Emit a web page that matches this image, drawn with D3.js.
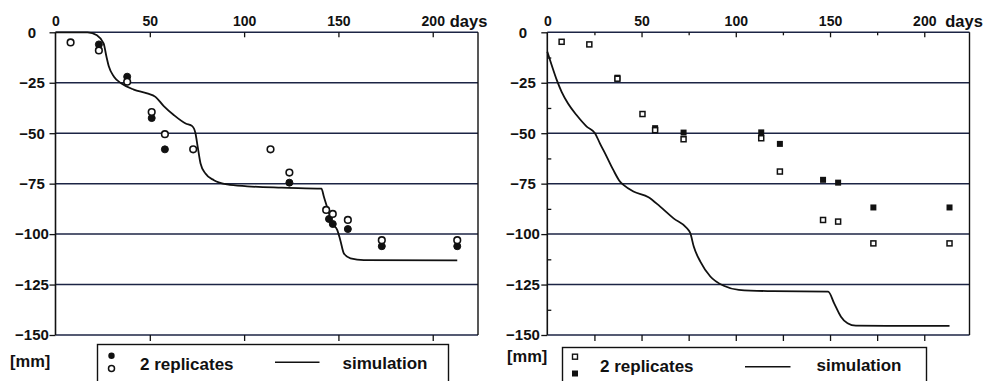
<!DOCTYPE html>
<html>
<head>
<meta charset="utf-8">
<script src="https://cdn.jsdelivr.net/npm/d3@7/dist/d3.min.js"></script>
<style>
  html, body { margin: 0; padding: 0; background: #fff; }
  svg { display: block; }
  text { font-family: "Liberation Sans", Arial, sans-serif; font-weight: bold; fill: #111; }
</style>
</head>
<body>
<svg id="chart" width="990" height="381"></svg>
<script>
// ---- data ----
const xTickValues = [0, 50, 100, 150, 200];
const yTickValues = [0, -25, -50, -75, -100, -125, -150];

// Left panel: two replicates (filled / open circles) and simulation
const leftRep1Days = [23, 38, 51, 58, 124, 145, 147, 155, 173, 213];
const leftRep1Vals = [-6, -22, -42.5, -58, -74.5, -92.5, -95, -97.5, -106, -106];
const leftRep2Days = [8, 23, 38, 51, 58, 73, 114, 124, 143.5, 147, 155, 173, 213];
const leftRep2Vals = [-5, -9, -24.5, -39.5, -50.5, -58, -58, -69.5, -88, -90, -93, -103, -103];
const leftSimDays = [0, 17, 22, 25.5, 27, 28.3, 31, 35, 41.5, 48.6, 53, 57.4, 62.7, 69, 72.5, 74.2, 75.4, 76.9, 79.5, 84, 91, 101.6, 120, 141, 142.3, 145, 146.7, 149.4, 151, 152.9, 156.4, 163.5, 213];
const leftSimVals = [0, 0, -1.5, -5.5, -12, -17, -22, -25.4, -28.4, -30.3, -32, -36.6, -41, -45.2, -46.5, -50, -56.8, -65, -70, -73.3, -75.4, -76.3, -77, -77.5, -81.5, -89.7, -94.7, -98, -103, -109.6, -112, -112.9, -113];

// Right panel: two replicates (open / filled squares) and simulation
const rightRep1Days = [7.6, 22.3, 37.2, 50.5, 57.2, 72.3, 113.5, 123.4, 146.3, 154.3, 173, 213.4];
const rightRep1Vals = [-4.7, -6, -23, -40.5, -48.5, -53, -52.5, -69, -93, -93.8, -104.6, -104.6];
const rightRep2Days = [37.2, 57.2, 72.3, 113.5, 123.4, 146.3, 154.3, 173, 213.4];
const rightRep2Vals = [-22.5, -47.5, -49.7, -49.6, -55.3, -73.1, -74.5, -86.8, -86.8];
const rightSimDays = [0, 2.3, 5, 7.6, 11, 15.5, 20.9, 25.3, 27.9, 31.5, 35, 38.6, 40.4, 45.7, 53.7, 59.9, 67, 74.1, 75.9, 77.7, 81.2, 86.5, 93.6, 101.6, 120, 149, 152.2, 155.8, 159.3, 163.7, 180, 213.4];
const rightSimVals = [-9.6, -16.2, -23.6, -29.5, -35.3, -41, -46.7, -50, -55, -61.6, -68.2, -74, -75.6, -78.9, -81.7, -86.4, -92.2, -97.1, -99.6, -106.2, -113.6, -121, -125.6, -127.6, -128.3, -128.5, -134.3, -140.9, -144.2, -145.4, -145.5, -145.5];

const legendLabels = ["2 replicates", "simulation"];

// ---- drawing ----
const svg = d3.select("#chart");
const GRID = "#1c2444";
const INK = "#111";

function zip(xs, ys) { return xs.map((d, i) => [d, ys[i]]); }

function panel(opt) {
  const x = d3.scaleLinear().domain([0, 224]).range([opt.x0, opt.x1]);
  const y = d3.scaleLinear().domain([0, -150]).range([32.3, 335]);
  const g = svg.append("g");

  // horizontal gridlines
  g.append("g").selectAll("line").data(yTickValues).join("line")
    .attr("x1", x(0)).attr("x2", x(224))
    .attr("y1", d => y(d)).attr("y2", d => y(d))
    .attr("stroke", GRID).attr("stroke-width", 1.5);

  // frame: left axis and right border
  g.append("line").attr("x1", x(0)).attr("x2", x(0)).attr("y1", y(0)).attr("y2", y(-150))
    .attr("stroke", INK).attr("stroke-width", 1.6);
  g.append("line").attr("x1", x(224)).attr("x2", x(224)).attr("y1", y(0)).attr("y2", y(-150))
    .attr("stroke", INK).attr("stroke-width", 1.4);

  // top axis with labels, ticks pointing inside
  const top = g.append("g").attr("transform", `translate(0,${y(0)})`)
    .call(d3.axisTop(x).tickValues(xTickValues).tickSizeInner(-5).tickSizeOuter(0).tickPadding(6).tickFormat(d3.format("d")));
  top.select(".domain").remove();
  top.selectAll("line").attr("stroke", INK).attr("stroke-width", 1.3);
  top.selectAll("text").attr("font-size", 14).attr("font-family", "Liberation Sans, Arial, sans-serif")
    .attr("font-weight", "bold").attr("fill", INK);
  top.selectAll(".tick").filter(d => d === 0).select("line").remove();

  // bottom ticks
  const bottomVals = opt.minor ? [25, 50, 75, 100, 125, 150, 175, 200] : [50, 100, 150, 200];
  const bot = g.append("g").attr("transform", `translate(0,${y(-150)})`)
    .call(d3.axisBottom(x).tickValues(bottomVals).tickSizeInner(6).tickSizeOuter(0).tickFormat(""));
  bot.select(".domain").remove();
  bot.selectAll("line").attr("stroke", INK).attr("stroke-width", 1.3);

  if (opt.minor) {
    const tm = g.append("g").attr("transform", `translate(0,${y(0)})`)
      .call(d3.axisTop(x).tickValues([25, 75, 125, 175]).tickSizeInner(-3).tickSizeOuter(0).tickFormat(""));
    tm.select(".domain").remove();
    tm.selectAll("line").attr("stroke", INK).attr("stroke-width", 1.3);
    const ym = g.append("g").attr("transform", `translate(${x(0)},0)`)
      .call(d3.axisRight(y).tickValues([-12.5, -37.5, -62.5, -87.5, -112.5, -137.5]).tickSizeInner(4).tickSizeOuter(0).tickFormat(""));
    ym.select(".domain").remove();
    ym.selectAll("line").attr("stroke", INK).attr("stroke-width", 1.3);
  }

  // "days" unit label
  g.append("text").attr("x", x(200) + opt.daysDx).attr("y", 26.5).attr("font-size", 16.5).text("days");

  // left axis
  const left = g.append("g").attr("transform", `translate(${x(0)},0)`)
    .call(d3.axisLeft(y).tickValues(yTickValues).tickSizeInner(6).tickSizeOuter(0).tickFormat(d3.format("d")));
  left.select(".domain").remove();
  left.selectAll("line").attr("stroke", INK).attr("stroke-width", 1.3);
  left.selectAll("text").attr("font-size", 15).attr("font-family", "Liberation Sans, Arial, sans-serif")
    .attr("font-weight", "bold").attr("fill", INK)
    .attr("text-anchor", "middle").attr("x", opt.labelCx - x(0));

  // unit
  g.append("text").attr("x", opt.mmX).attr("y", opt.mmY).attr("font-size", 16.5).text("[mm]");

  // simulation line
  const line = d3.line().x(d => x(d[0])).y(d => y(d[1])).curve(d3.curveMonotoneX);
  g.append("path").datum(zip(opt.simDays, opt.simVals))
    .attr("d", line).attr("fill", "none").attr("stroke", INK).attr("stroke-width", 1.8);

  return { g, x, y };
}

// ----- left panel -----
const L = panel({ x0: 55.5, x1: 478, labelCx: 32, mmX: 10, mmY: 367, minor: false, daysDx: 17,
  simDays: leftSimDays, simVals: leftSimVals });

L.g.append("g").selectAll("circle").data(zip(leftRep1Days, leftRep1Vals)).join("circle")
  .attr("cx", d => L.x(d[0])).attr("cy", d => L.y(d[1])).attr("r", 3.5)
  .attr("fill", INK).attr("stroke", INK).attr("stroke-width", 1);
L.g.append("g").selectAll("circle").data(zip(leftRep2Days, leftRep2Vals)).join("circle")
  .attr("cx", d => L.x(d[0])).attr("cy", d => L.y(d[1])).attr("r", 3.3)
  .attr("fill", "#fff").attr("stroke", INK).attr("stroke-width", 1.6);

// ----- right panel -----
const R = panel({ x0: 547.3, x1: 969.5, labelCx: 523, mmX: 507, mmY: 362, minor: true, daysDx: 21,
  simDays: rightSimDays, simVals: rightSimVals });

const sq = 6;
R.g.append("g").selectAll("rect").data(zip(rightRep2Days, rightRep2Vals)).join("rect")
  .attr("x", d => R.x(d[0]) - sq / 2).attr("y", d => R.y(d[1]) - sq / 2)
  .attr("width", sq).attr("height", sq).attr("fill", INK);
R.g.append("g").selectAll("rect").data(zip(rightRep1Days, rightRep1Vals)).join("rect")
  .attr("x", d => R.x(d[0]) - sq / 2 + 0.5).attr("y", d => R.y(d[1]) - sq / 2 + 0.5)
  .attr("width", sq - 1).attr("height", sq - 1)
  .attr("fill", "#fff").attr("stroke", INK).attr("stroke-width", 1.5);

// ----- legends -----
function legend(o) {
  const lg = svg.append("g");
  lg.append("rect").attr("x", o.bx0).attr("y", o.by).attr("width", o.bx1 - o.bx0).attr("height", 60)
    .attr("fill", "#fff").attr("stroke", INK).attr("stroke-width", 1.4);
  o.markers(lg);
  lg.append("text").attr("x", o.textX).attr("y", o.textY).attr("font-size", 17).text(legendLabels[0]);
  lg.append("line").attr("x1", o.lineX0).attr("x2", o.lineX1).attr("y1", o.lineY).attr("y2", o.lineY)
    .attr("stroke", INK).attr("stroke-width", 1.6);
  lg.append("text").attr("x", o.simX).attr("y", o.textY - 1).attr("font-size", 17).text(legendLabels[1]);
}

legend({
  bx0: 97.5, bx1: 448.5, by: 344.5,
  markers: lg => {
    lg.append("circle").attr("cx", 111.5).attr("cy", 355.7).attr("r", 3.2).attr("fill", INK);
    lg.append("circle").attr("cx", 111.5).attr("cy", 368.5).attr("r", 3).attr("fill", "#fff")
      .attr("stroke", INK).attr("stroke-width", 1.5);
  },
  textX: 140, textY: 369.5, lineX0: 275, lineX1: 319.5, lineY: 362.3, simX: 342.5
});

legend({
  bx0: 562.5, bx1: 926.5, by: 347.5,
  markers: lg => {
    lg.append("rect").attr("x", 572.5).attr("y", 354.2).attr("width", 5).attr("height", 5)
      .attr("fill", "#fff").attr("stroke", INK).attr("stroke-width", 1.4);
    lg.append("rect").attr("x", 572).attr("y", 370.5).attr("width", 6).attr("height", 6).attr("fill", INK);
  },
  textX: 600, textY: 372, lineX0: 745, lineX1: 790.5, lineY: 366.7, simX: 816.5
});
</script>
</body>
</html>
